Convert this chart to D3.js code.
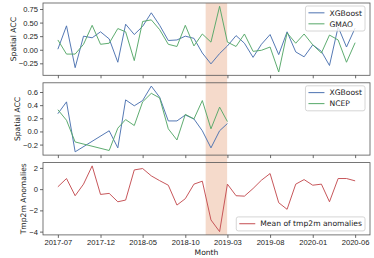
<!DOCTYPE html>
<html>
<head>
<meta charset="utf-8">
<script src="https://cdn.jsdelivr.net/npm/d3@7"></script>
<style>
  body { margin: 0; background: #fff; }
  svg { display: block; font-family: "DejaVu Sans", sans-serif; }
  .axis text { font-size: 7.6px; fill: #222; }
  .axis line { stroke: #444; stroke-width: 0.8; }
  .axis path { display: none; }
</style>
</head>
<body>
<div class="chart-container"></div>
<script>
// Months on the shared x axis (monthly, 2017-07 .. 2020-06)
const months = ["2017-07", "2017-08", "2017-09", "2017-10", "2017-11", "2017-12",
    "2018-01", "2018-02", "2018-03", "2018-04", "2018-05", "2018-06",
    "2018-07", "2018-08", "2018-09", "2018-10", "2018-11", "2018-12",
    "2019-01", "2019-02", "2019-03", "2019-04", "2019-05", "2019-06",
    "2019-07", "2019-08", "2019-09", "2019-10", "2019-11", "2019-12",
    "2020-01", "2020-02", "2020-03", "2020-04", "2020-05", "2020-06"];

// Panel 1: XGBoost vs GMAO spatial ACC
const xgbTop = [0.01, 0.44, -0.33, 0.25, 0.22, 0.33, 0.20, -0.23, 0.47, 0.28, 0.43, 0.68,
    0.45, 0.17, 0.18, 0.25, 0.21, -0.06, -0.26, -0.07, 0.07, 0.26, 0.12, -0.14,
    0.10, 0.28, -0.09, 0.33, -0.04, -0.13, 0.09, -0.03, -0.29, 0.42, 0.05, 0.40];
const gmao = [0.18, -0.08, -0.08, 0.10, 0.45, 0.10, 0.12, 0.39, 0.33, -0.20, 0.52, 0.55,
    0.37, 0.10, 0.06, 0.45, 0.07, 0.29, 0.14, 0.80, 0.14, 0.06, 0.29, -0.03,
    -0.01, 0.05, -0.41, 0.31, 0.12, 0.29, 0.09, -0.06, 0.27, 0.18, -0.23, 0.13];

// Panel 2: XGBoost vs NCEP spatial ACC (NCEP months only)
const ncepMonths = ["2017-07", "2017-08", "2017-09", "2018-01", "2018-02", "2018-03",
    "2018-04", "2018-05", "2018-06", "2018-07", "2018-08", "2018-09", "2018-10",
    "2018-11", "2018-12", "2019-01", "2019-02", "2019-03"];
const xgbMid = [0.27, 0.45, -0.31, 0.01, -0.25, 0.48, 0.39, 0.47, 0.69, 0.52, 0.16, 0.16,
    0.25, 0.19, 0.01, -0.25, 0.01, 0.12];
const ncep = [0.33, 0.17, -0.16, -0.29, 0.05, 0.18, 0.09, 0.45, 0.58, 0.51, 0.04, -0.13,
    0.26, 0.19, 0.47, 0.04, 0.37, 0.15];

// Panel 3: mean of tmp2m anomalies
const tmp2m = [0.22, 1.00, -0.62, 0.47, 2.19, -0.50, -0.40, -1.19, -1.03, 1.81, 1.94, 1.25,
    0.80, 0.37, -1.50, -0.90, 0.47, 0.75, -2.90, -4.00, 0.47, -0.62, -0.66, 0.06,
    0.84, 1.47, -1.28, -1.90, 0.47, 0.90, 0.37, 0.47, -1.19, 1.00, 1.00, 0.78];

// Tick labels and highlighted period
const xTickLabels = ["2017-07", "2017-12", "2018-05", "2018-10", "2019-03", "2019-08", "2020-01", "2020-06"];
const yTicksTop = [-0.25, 0, 0.25, 0.5, 0.75];
const yTicksMid = [-0.2, 0, 0.2, 0.4, 0.6];
const yTicksBottom = [-4, -2, 0, 2];
const shadeRange = ["2018-12-13", "2019-02-28"];

const colors = { blue: '#4c72b0', green: '#55a868', red: '#c44e52', shade: '#dd8452' };

const parseMonth = d3.timeParse('%Y-%m');
const parseDay = d3.timeParse('%Y-%m-%d');

const svg_width = 374;
const svg_height = 258;
const chart_left = 43;
const chart_right = 370;
const panel_top = 3;
const panel_height = 72.3;
const panel_gap = 7.5;

const svg = d3.select('.chart-container').append('svg')
    .attr('width', svg_width).attr('height', svg_height);

// shared x scale, matplotlib style 5% margins
const dates = months.map(parseMonth);
const t0 = dates[0], t1 = dates[dates.length - 1];
const span = t1 - t0;
const xScale = d3.scaleTime()
    .domain([new Date(+t0 - span * 0.05), new Date(+t1 + span * 0.05)])
    .range([chart_left, chart_right]);

function padExtent(values) {
    const [lo, hi] = d3.extent(values);
    const m = (hi - lo) * 0.05;
    return [lo - m, hi + m];
}

const panels = [
    {
        series: [
            { name: 'XGBoost', x: months, y: xgbTop, color: colors.blue },
            { name: 'GMAO', x: months, y: gmao, color: colors.green },
        ],
        yTicks: yTicksTop, fmt: d3.format('.2f'), ylabel: 'Spatial ACC',
    },
    {
        series: [
            { name: 'XGBoost', x: ncepMonths, y: xgbMid, color: colors.blue },
            { name: 'NCEP', x: ncepMonths, y: ncep, color: colors.green },
        ],
        yTicks: yTicksMid, fmt: d3.format('.1f'), ylabel: 'Spatial ACC',
    },
    {
        series: [
            { name: 'Mean of tmp2m anomalies', x: months, y: tmp2m, color: colors.red },
        ],
        yTicks: yTicksBottom, fmt: d3.format('d'), ylabel: 'Tmp2m Anomalies',
    },
];

const firstTop = panel_top;
const lastBottom = panel_top + 3 * panel_height + 2 * panel_gap;

// Shaded period spanning all three panels
svg.append('rect')
    .attr('x', xScale(parseDay(shadeRange[0])))
    .attr('width', xScale(parseDay(shadeRange[1])) - xScale(parseDay(shadeRange[0])))
    .attr('y', firstTop)
    .attr('height', lastBottom - firstTop)
    .attr('fill', colors.shade)
    .attr('opacity', 0.3);

panels.forEach((p, idx) => {
    const top = panel_top + idx * (panel_height + panel_gap);
    const bottom = top + panel_height;
    const allY = p.series.flatMap(s => s.y);
    const yScale = d3.scaleLinear().domain(padExtent(allY)).range([bottom, top]);

    const g = svg.append('g');

    // Lines
    p.series.forEach(s => {
        const line = d3.line()
            .x((d, i) => xScale(parseMonth(s.x[i])))
            .y(d => yScale(d));
        g.append('path')
            .datum(s.y)
            .attr('d', line)
            .attr('fill', 'none')
            .attr('stroke', s.color)
            .attr('stroke-width', 0.95)
            .attr('stroke-linejoin', 'round');
    });

    // Frame
    g.append('rect')
        .attr('x', chart_left).attr('y', top)
        .attr('width', chart_right - chart_left).attr('height', panel_height)
        .attr('fill', 'none').attr('stroke', '#555').attr('stroke-width', 0.8);

    // Axes
    const isLast = idx === panels.length - 1;
    const xAxis = d3.axisBottom(xScale)
        .tickValues(xTickLabels.map(parseMonth))
        .tickSize(3).tickPadding(2)
        .tickFormat(isLast ? d3.timeFormat('%Y-%m') : () => '');
    g.append('g').attr('class', 'x axis')
        .attr('transform', `translate(0, ${bottom})`)
        .call(xAxis);

    const yAxis = d3.axisLeft(yScale).tickValues(p.yTicks).tickFormat(p.fmt)
        .tickSize(3).tickPadding(2);
    const yAxisDraw = g.append('g').attr('class', 'y axis')
        .attr('transform', `translate(${chart_left}, 0)`)
        .call(yAxis);

    const bb = yAxisDraw.node().getBBox();
    g.append('text')
        .attr('transform', `translate(${bb.x + chart_left - 3}, ${(top + bottom) / 2}) rotate(-90)`)
        .attr('text-anchor', 'middle')
        .style('font-size', '7.6px').style('fill', '#222')
        .text(p.ylabel);

    // Legend
    const rowH = 11;
    const handleW = 16;
    const lg = g.append('g');
    const items = lg.selectAll('.item').data(p.series).enter().append('g')
        .attr('transform', (d, i) => `translate(0, ${i * rowH})`);
    items.append('line')
        .attr('x1', 0).attr('x2', handleW).attr('y1', 0).attr('y2', 0)
        .attr('stroke', d => d.color).attr('stroke-width', 1);
    items.append('text')
        .attr('x', handleW + 5).attr('dy', '0.35em')
        .style('font-size', '7.6px').style('fill', '#222')
        .text(d => d.name);
    const lb = lg.node().getBBox();
    const boxW = lb.width + 6;
    const boxH = lb.height + 5;
    const boxX = chart_right - 5 - boxW;
    const boxY = isLast ? bottom - 4 - boxH : top + 3;
    lg.insert('rect', ':first-child')
        .attr('x', lb.x - 3).attr('y', lb.y - 2.5)
        .attr('width', boxW).attr('height', boxH)
        .attr('rx', 2)
        .attr('fill', 'white').attr('fill-opacity', 0.8)
        .attr('stroke', '#ccc').attr('stroke-width', 0.8);
    lg.attr('transform', `translate(${boxX - lb.x + 3}, ${boxY - lb.y + 2.5})`);
});

// x label
svg.append('text')
    .attr('x', (chart_left + chart_right) / 2)
    .attr('y', 254.5)
    .attr('text-anchor', 'middle')
    .style('font-size', '7.6px').style('fill', '#222')
    .text('Month');
</script>
</body>
</html>
